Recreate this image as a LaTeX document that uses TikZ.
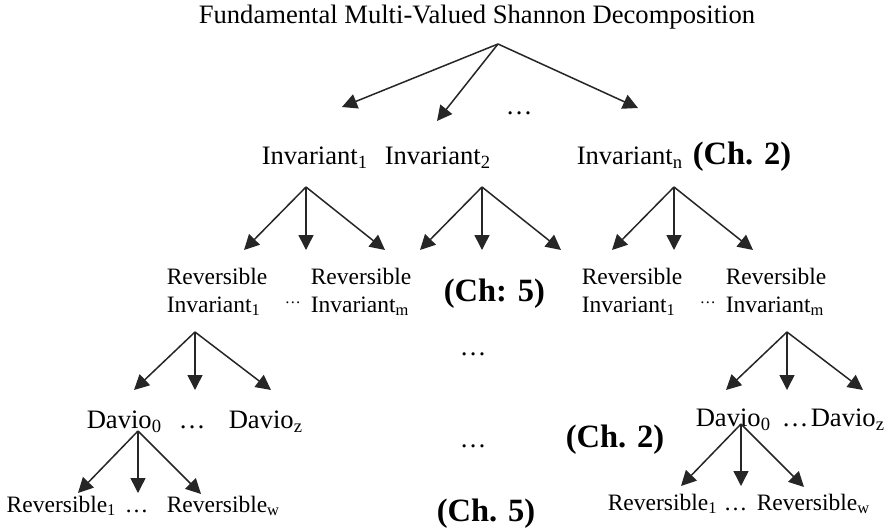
\documentclass[tikz,border=0pt]{standalone}
\usepackage{fontspec}
\setmainfont{Liberation Serif}
\usetikzlibrary{arrows.meta}

\begin{document}
\begin{tikzpicture}[x=0.5pt,y=-0.5pt,line width=0.75pt,>={Triangle[length=7.5pt,width=7.5pt]},
  lbl/.style={inner sep=0pt,anchor=base west,font=\fontsize{13.3}{16}\selectfont},
  sml/.style={inner sep=0pt,anchor=west,align=left,font=\fontsize{11.75}{14}\selectfont},
  chap/.style={inner sep=0pt,anchor=base west,font=\fontsize{16.25}{19}\selectfont\bfseries},
  arr/.style={->,black!85}]
  \useasboundingbox[fill=white] (0,0) rectangle (889,531);
  % top level
  \node[lbl,anchor=base] (title) at (477,23) {Fundamental Multi-Valued Shannon Decomposition};
  \node[lbl] (dots0) at (505,114) {…};
  % invariants
  \node[lbl] (inv1) at (261,164) {Invariant\textsubscript{1}};
  \node[lbl] (inv2) at (384,164) {Invariant\textsubscript{2}};
  \node[lbl] (invn) at (576,164) {Invariant\textsubscript{n}};
  \node[chap] (ch2a) at (692,164) {(Ch. 2)};
  % reversible invariants
  \node[sml] (rinv1) at (166,292) {Reversible\\Invariant\textsubscript{1}};
  \node[lbl] (dots1) at (284,303) {\fontsize{8}{8}\selectfont …};
  \node[sml] (rinvm) at (310,292) {Reversible\\Invariant\textsubscript{m}};
  \node[chap] (ch5a) at (443,301) {(Ch: 5)};
  \node[sml] (rinv1b) at (581,292) {Reversible\\Invariant\textsubscript{1}};
  \node[lbl] (dots2) at (699,303) {\fontsize{8}{8}\selectfont …};
  \node[sml] (rinvmb) at (725,292) {Reversible\\Invariant\textsubscript{m}};
  \node[lbl] (dots3) at (459,355) {…};
  % davio level
  \node[lbl] (dav0) at (86,428) {Davio\textsubscript{0}};
  \node[lbl] (dots4) at (178,428) {…};
  \node[lbl] (davz) at (228,428) {Davio\textsubscript{z}};
  \node[lbl] (dots5) at (459,447) {…};
  \node[chap] (ch2b) at (565,447) {(Ch. 2)};
  \node[lbl] (dav0b) at (695,426) {Davio\textsubscript{0}};
  \node[lbl] (dots6) at (781,426) {…};
  \node[lbl] (davzb) at (810,426) {Davio\textsubscript{z}};
  % reversible gates
  \node[lbl,font=\fontsize{11.75}{14}\selectfont] (rev1) at (6,512) {Reversible\textsubscript{1}};
  \node[lbl,font=\fontsize{11.75}{14}\selectfont] (dots7) at (124,512) {…};
  \node[lbl,font=\fontsize{11.75}{14}\selectfont] (revw) at (166,512) {Reversible\textsubscript{w}};
  \node[chap] (ch5b) at (436,521) {(Ch. 5)};
  \node[lbl,font=\fontsize{11.75}{14}\selectfont] (rev1b) at (607,510) {Reversible\textsubscript{1}};
  \node[lbl,font=\fontsize{11.75}{14}\selectfont] (dots8) at (723,510) {…};
  \node[lbl,font=\fontsize{11.75}{14}\selectfont] (revwb) at (756,510) {Reversible\textsubscript{w}};
  % fan points
  \coordinate (t0) at (498,44);
  \coordinate (t1) at (342,107); \coordinate (t2) at (437,121); \coordinate (t3) at (638,108);
  \coordinate (a1) at (306,187); \coordinate (a2) at (482,187); \coordinate (a3) at (674,187);
  \coordinate (b1) at (195,332); \coordinate (b2) at (787,332);
  \coordinate (c1) at (138,431); \coordinate (c2) at (741,424);
  % arrows
  \foreach \t in {t1,t2,t3} \draw[arr] (t0) -- (\t);
  \foreach \a in {a1,a2,a3} {
    \draw[arr] (\a) -- ++(-62,63);
    \draw[arr] (\a) -- ++(0,63);
    \draw[arr] (\a) -- ++(79,63);
  }
  \foreach \b in {b1,b2} {
    \draw[arr] (\b) -- ++(-61,58);
    \draw[arr] (\b) -- ++(0,58);
    \draw[arr] (\b) -- ++(76,58);
  }
  \foreach \c in {c1,c2} {
    \draw[arr] (\c) -- ++(-60,62);
    \draw[arr] (\c) -- ++(0,62);
    \draw[arr] (\c) -- ++(63,63);
  }
\end{tikzpicture}
\end{document}
